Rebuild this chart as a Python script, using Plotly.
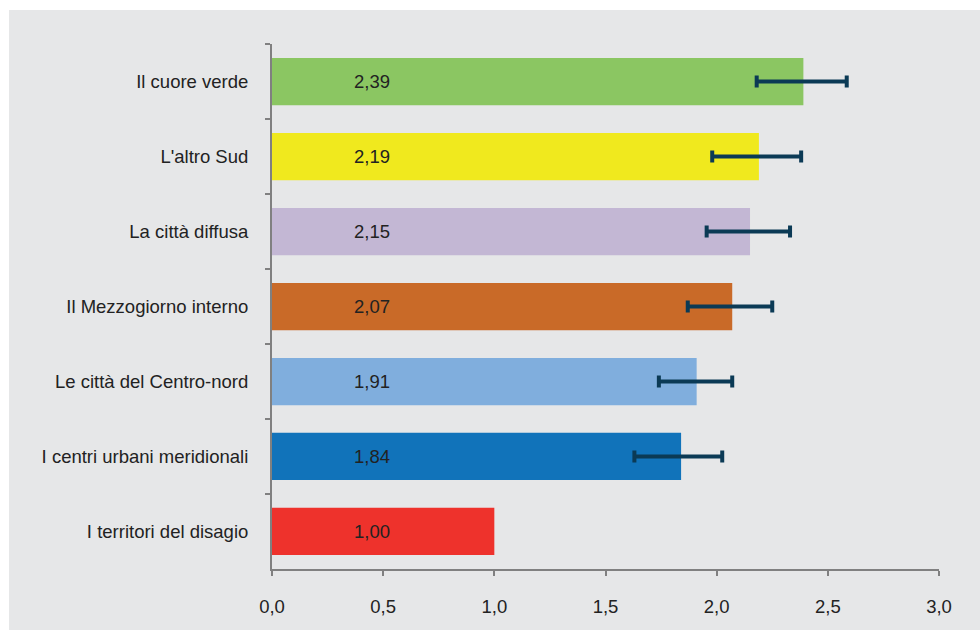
import plotly.graph_objects as go

categories = ["Il cuore verde", "L'altro Sud", "La città diffusa", "Il Mezzogiorno interno",
              "Le città del Centro-nord", "I centri urbani meridionali", "I territori del disagio"]
values = [2.39, 2.19, 2.15, 2.07, 1.91, 1.84, 1.00]
ci_low = [2.18, 1.98, 1.955, 1.87, 1.74, 1.63, None]
ci_high = [2.585, 2.38, 2.33, 2.25, 2.07, 2.025, None]
colors = ["#8bc662", "#f0e91e", "#c3b7d4", "#c96a28", "#80aedd", "#1173ba", "#ee322c"]
value_labels = ["2,39", "2,19", "2,15", "2,07", "1,91", "1,84", "1,00"]
x_ticks = [0, 0.5, 1.0, 1.5, 2.0, 2.5, 3.0]
x_tick_labels = ["0,0", "0,5", "1,0", "1,5", "2,0", "2,5", "3,0"]

FONT = "Liberation Sans, Arial, sans-serif"

has_ci = [i for i in range(len(values)) if ci_low[i] is not None]
no_ci = [i for i in range(len(values)) if ci_low[i] is None]

fig = go.Figure()
fig.add_trace(go.Bar(
    x=[values[i] for i in has_ci], y=[categories[i] for i in has_ci], orientation="h",
    marker=dict(color=[colors[i] for i in has_ci], line=dict(width=0)),
    width=0.63,
    error_x=dict(type="data", symmetric=False,
                 array=[ci_high[i] - values[i] for i in has_ci],
                 arrayminus=[values[i] - ci_low[i] for i in has_ci],
                 color="#0b3a55", thickness=4, width=6, visible=True),
    hoverinfo="x+y",
))
fig.add_trace(go.Bar(
    x=[values[i] for i in no_ci], y=[categories[i] for i in no_ci], orientation="h",
    marker=dict(color=[colors[i] for i in no_ci], line=dict(width=0)),
    width=0.63,
    hoverinfo="x+y",
))

for c, lab in zip(categories, value_labels):
    fig.add_annotation(x=0.45, y=c, text=lab, showarrow=False, xref="x", yref="y",
                       font=dict(family=FONT, size=18.5, color="#222222"))

fig.add_shape(type="rect", xref="paper", yref="paper",
              x0=(9 - 272) / 667, x1=(985 - 272) / 667,
              y0=(569 - 640) / 525, y1=(569 - 10) / 525,
              fillcolor="#e6e7e8", line=dict(width=0), layer="below")

fig.update_layout(
    width=980, height=630,
    margin=dict(l=272, r=41, t=44, b=61),
    paper_bgcolor="white",
    plot_bgcolor="rgba(0,0,0,0)",
    showlegend=False,
    barmode="overlay",
    font=dict(family=FONT, size=18.5, color="#222222"),
    xaxis=dict(range=[0, 3.0], tickvals=x_ticks, ticktext=x_tick_labels,
               showgrid=False, zeroline=False, showline=True, linecolor="#808080", linewidth=2,
               ticks="outside", ticklen=5, tickcolor="#808080", tickwidth=2,
               ticklabelstandoff=15, fixedrange=True),
    yaxis=dict(categoryorder="array", categoryarray=categories, autorange="reversed",
               showgrid=False, zeroline=False, showline=True, linecolor="#808080", linewidth=2,
               ticks="outside", ticklen=5, tickcolor="#808080", tickwidth=2, tickson="boundaries",
               ticklabelstandoff=18, fixedrange=True),
)

fig.write_html("out.html", config={"displayModeBar": False},
               post_script="document.body.style.margin='0';document.body.style.overflow='hidden';")
